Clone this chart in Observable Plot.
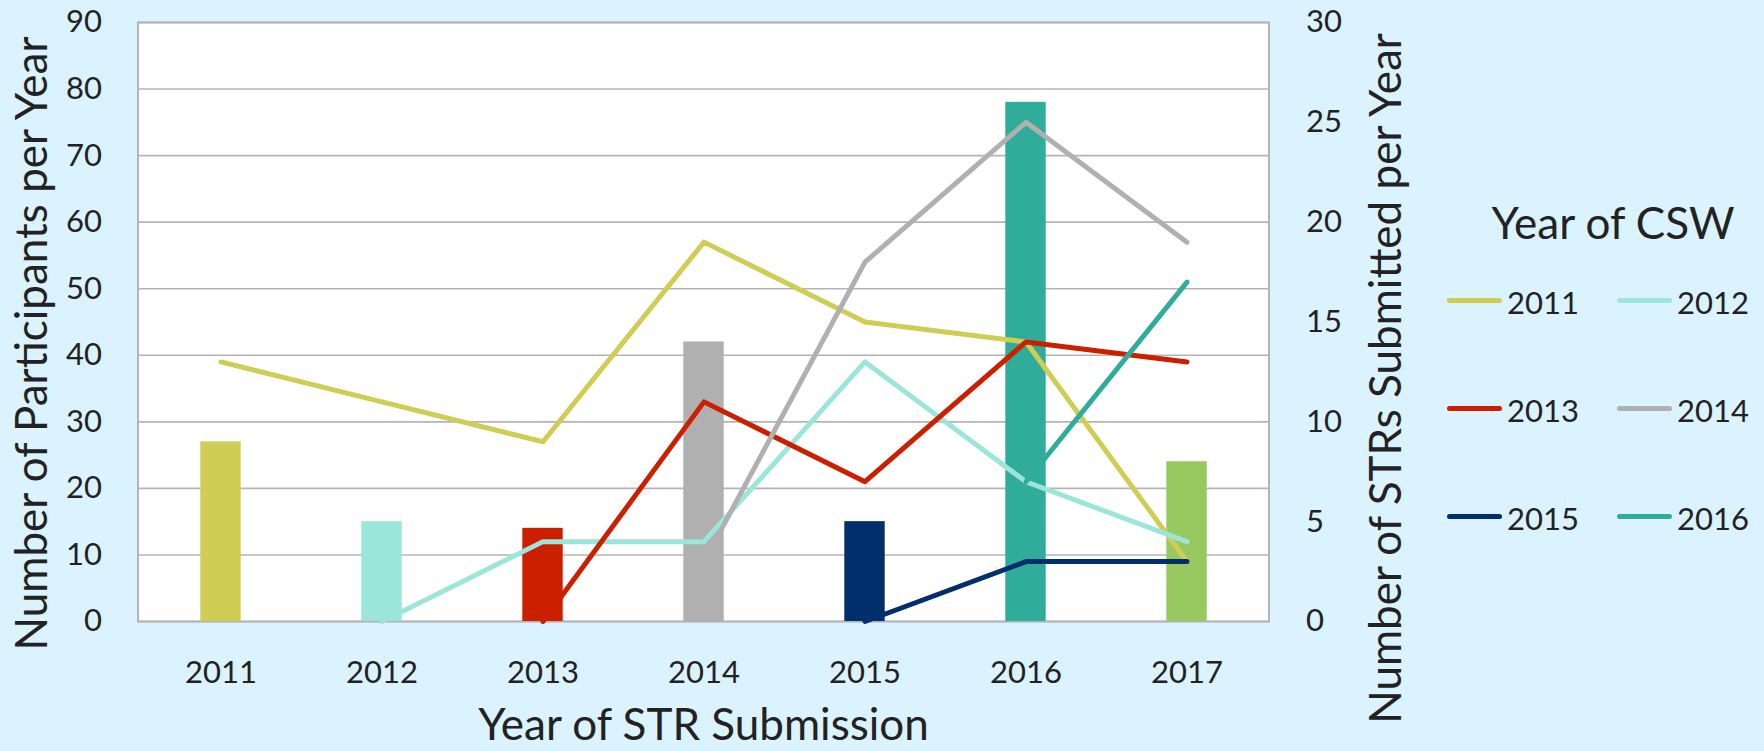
<!DOCTYPE html>
<html>
<head>
<meta charset="utf-8">
<script src="https://cdn.jsdelivr.net/npm/d3@7"></script>
<script src="https://cdn.jsdelivr.net/npm/@observablehq/plot@0.6"></script>
<style>
  html, body { margin: 0; padding: 0; background: #DAF3FE; }
  #wrap { position: relative; width: 1764px; height: 751px; overflow: hidden; font-family: Lato, sans-serif; color: #222; }
  #legend { position: absolute; left: 0; top: 0; width: 1764px; height: 751px; pointer-events: none; }
  .lg-title { position: absolute; font-size: 44px; line-height: 1; white-space: nowrap; transform: translateX(-50%); }
  .lg-item { position: absolute; display: flex; align-items: center; white-space: nowrap; }
  .lg-sw { width: 55px; height: 5px; border-radius: 3px; margin-right: 5px; }
  .lg-lab { font-size: 31px; line-height: 1; position: relative; top: 2px; }
</style>
</head>
<body>
<div id="wrap"><div id="chart"></div><div id="legend"></div></div>
<script>
// ---- data ----
const years = ["2011", "2012", "2013", "2014", "2015", "2016", "2017"];
const participants = [27, 15, 14, 42, 15, 78, 24];
const barColors = ["#D0CD55", "#9BE5DB", "#CC1F00", "#B0B0B0", "#002F6C", "#30AD9A", "#98C961"];

const cswYears = ["2011", "2012", "2013", "2014", "2015", "2016"];
const lineColors = ["#D0CD55", "#9BE5DB", "#CC1F00", "#B0B0B0", "#002F6C", "#30AD9A"];
// STRs submitted per year (x = years 2011..2017), per CSW cohort
const str2011 = [13, 11, 9, 19, 15, 14, 3];
const str2012 = [null, 0, 4, 4, 13, 7, 4];
const str2013 = [null, null, 0, 11, 7, 14, 13];
const str2014 = [null, null, null, 3, 18, 25, 19];
const str2015 = [null, null, null, null, 0, 3, 3];
const str2016 = [null, null, null, null, null, 7, 17];
const strSeries = [str2011, str2012, str2013, str2014, str2015, str2016];

const leftTicks = [0, 10, 20, 30, 40, 50, 60, 70, 80, 90];
const rightTicks = [0, 5, 10, 15, 20, 25, 30];
const ratio = 3; // right axis 0-30 vs left axis 0-90

// ---- tables ----
const bars = years.map((y, i) => ({year: y, value: participants[i], color: barColors[i]}));
const lines = [];
strSeries.forEach((s, k) => s.forEach((v, i) => {
  if (v != null) lines.push({csw: cswYears[k], year: years[i], v});
}));

const textColor = "#222";
const gridColor = "#B4B4B4";

const chart = Plot.plot({
  width: 1764,
  height: 751,
  marginLeft: 137.5,
  marginRight: 495.5,
  marginTop: 22,
  marginBottom: 130,
  style: {background: "transparent", fontFamily: "Lato, sans-serif", color: textColor, overflow: "visible"},
  x: {type: "band", domain: years, padding: 0},
  y: {domain: [0, 90]},
  color: {domain: cswYears, range: lineColors},
  marks: [
    Plot.frame({fill: "white", stroke: "none"}),
    Plot.gridY(leftTicks, {stroke: gridColor, strokeOpacity: 1, strokeWidth: 1.6}),
    Plot.frame({stroke: gridColor, strokeWidth: 2, fill: "none"}),
    Plot.barY(bars, {x: "year", y: "value", fill: "color", insetLeft: 60.3, insetRight: 60.3}),
    ...cswYears.map(c => Plot.line(lines.filter(d => d.csw === c), {
      x: "year", y: d => d.v * ratio, stroke: "csw", strokeWidth: 5,
      strokeLinecap: "round", strokeLinejoin: "round"
    })),
    Plot.axisX({tickSize: 0, tickPadding: 39, fontSize: 31, label: null, fill: textColor}),
    Plot.axisY({ticks: leftTicks, tickSize: 0, tickPadding: 36, fontSize: 31, label: null, fill: textColor}),
    Plot.axisY({anchor: "right", ticks: rightTicks.map(t => t * ratio), tickFormat: d => String(d / ratio),
      tickSize: 0, tickPadding: 37, fontSize: 31, label: null, fill: textColor}),
    Plot.text(["Year of STR Submission"], {frameAnchor: "bottom", textAnchor: "middle", dy: 104, fontSize: 44, fill: textColor, lineAnchor: "middle"}),
    Plot.text(["Number of Participants per Year"], {frameAnchor: "left", textAnchor: "middle", dx: -105, dy: 21.5, rotate: -90, fontSize: 44, fill: textColor, lineAnchor: "middle"}),
    Plot.text(["Number of STRs Submitted per Year"], {frameAnchor: "right", textAnchor: "middle", dx: 117.5, dy: 56.5, rotate: -90, fontSize: 44, fill: textColor, lineAnchor: "middle"})
  ]
});
document.getElementById("chart").appendChild(chart);

// ---- legend (HTML) ----
const legend = document.getElementById("legend");
const t = document.createElement("div");
t.className = "lg-title";
t.textContent = "Year of CSW";
t.style.left = "1613px";
t.style.top = "200px";
legend.appendChild(t);
const colX = [1447, 1617];
const rowY = [300, 408, 516];
cswYears.forEach((c, i) => {
  const it = document.createElement("div");
  it.className = "lg-item";
  it.style.left = colX[i % 2] + "px";
  it.style.top = (rowY[Math.floor(i / 2)] - 20) + "px";
  it.style.height = "40px";
  const sw = document.createElement("div");
  sw.className = "lg-sw";
  sw.style.background = lineColors[i];
  const lab = document.createElement("span");
  lab.className = "lg-lab";
  lab.textContent = c;
  it.appendChild(sw);
  it.appendChild(lab);
  legend.appendChild(it);
});
</script>
</body>
</html>
